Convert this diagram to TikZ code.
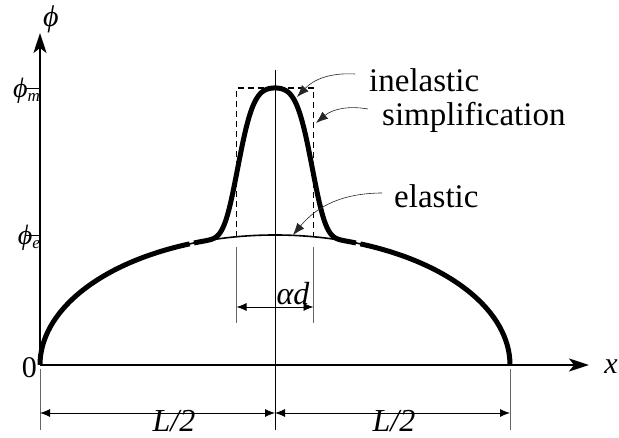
\documentclass[tikz,border=0pt]{standalone}
\usepackage{fontspec}
\setmainfont{Liberation Serif}
\usetikzlibrary{arrows.meta,positioning}
\begin{document}
\begin{tikzpicture}[x=1pt, y=1pt, font=\fontsize{33}{36}\selectfont,
	declare function={el(\s)=130*sqrt(1-((\s-235)/235)*((\s-235)/235));
		hump(\s)=el(\s)+147*exp(-0.2*((\s-235)/44)*((\s-235)/44)-1.2*((\s-235)/44)*((\s-235)/44)*((\s-235)/44)*((\s-235)/44));},
	axis/.style={line width=2pt, -{Stealth[length=20pt, width=13pt, inset=5pt]}},
	curve/.style={line width=5pt},
	dim/.style={line width=0.8pt, {Latex[length=10pt, width=8pt]}-{Latex[length=10pt, width=8pt]}},
	ext/.style={line width=1pt, black!60},
	note/.style={line width=0.6pt, black!85, -{Latex[length=12pt, width=9pt]}},
	lbl/.style={inner sep=0pt}]
		\useasboundingbox (-40,-73) rectangle (579,365);
		% Define nodes
		\node[lbl, anchor=base west] (inel) at (329,273) {inelastic}; \node[lbl, anchor=base
		west] (simp) at (342,239) {simplification}; \node[lbl, anchor=base west] (elas) at
		(354,157) {elastic}; \node[lbl, font=\fontsize{30}{32}\selectfont\itshape] (phi) at
		(11,346) {ϕ}; \node[lbl, font=\fontsize{30}{32}\selectfont\itshape] (xlab) at (571,-2)
		{x}; \node[lbl, font=\fontsize{30}{32}\selectfont, anchor=east] (zero) at (-3,-3) {0};
		\node[lbl, font=\fontsize{28}{30}\selectfont\itshape, anchor=east] (phim) at (0,274)
		{ϕ\raisebox{-4pt}{\fontsize{17}{18}\selectfont m}}; \node[lbl,
		font=\fontsize{28}{30}\selectfont\itshape, anchor=east] (phie) at (0,127)
		{ϕ\raisebox{-4pt}{\fontsize{17}{18}\selectfont e}}; \node[lbl, anchor=base,
		font=\fontsize{32}{34}\selectfont\itshape] (ad) at (253,60) {αd}; \node[lbl,
		anchor=base, font=\fontsize{32}{34}\selectfont\itshape] (lhalf) at (134,-67) {L/2};
		\node[lbl, anchor=base, font=\fontsize{32}{34}\selectfont\itshape] (rhalf) at
		(354,-67) {L/2};
		
		% Define coordinates
		\coordinate (o) at (0,0); \coordinate (xend) at (549,0); \coordinate (yend) at (0,332);
		\coordinate (inelS) at (315,291); \coordinate (inelT) at (257,268); \coordinate (simpS)
		at (328,256); \coordinate (simpT) at (276,242); \coordinate (elasS) at (342,172);
		\coordinate (elasT) at (253,130); \coordinate (adL) at (196.5,58); \coordinate (adR) at
		(273.5,58); \coordinate (lL) at (0,-48); \coordinate (lM) at (235,-48); \coordinate
		(lR) at (470,-48);
		
		% Draw curves
		\draw[line width=1.6pt] plot[domain=146:324, samples=60] (\x,{el(\x)});
		\draw[curve] (0,0) arc[start angle=180, end angle=111.3, x radius=235pt, y radius=130pt];
		\draw[curve] (470,0) arc[start angle=0, end angle=68.7, x radius=235pt, y radius=130pt];
		\draw[curve] plot[domain=154:316, samples=140] (\x,{hump(\x)});
		\draw[dashed, dash pattern=on 6pt off 4pt, line width=1.2pt] (196.5,{el(196.5)}) --
		(196.5,277) -- (273.5,277) -- (273.5,{el(273.5)});
		
		% Draw axes and dimensions
		\draw[axis] (o) -- (xend); \draw[axis] (o) -- (yend); \draw[line width=0.8pt]
		(-15,277) -- (0,277); \draw[line width=0.8pt] (-15,130) -- (0,130); \draw[line
		width=0.8pt] (235,295) -- (235,-65); \draw[ext] (0,-4) -- (0,-65); \draw[ext] (470,-4)
		-- (470,-65); \draw[ext] (196.5,118) -- (196.5,42); \draw[ext] (273.5,118) --
		(273.5,42); \draw[dim] (adL) -- (adR); \draw[dim] (lL) -- (lM); \draw[dim] (lM) --
		(lR);
		
		% Draw edges
		\draw[note] (inelS) to[bend right=25] (inelT); \draw[note] (simpS) to[bend right=25]
		(simpT); \draw[note] (elasS) to[bend right=25] (elasT);
	\end{tikzpicture}
\end{document}
